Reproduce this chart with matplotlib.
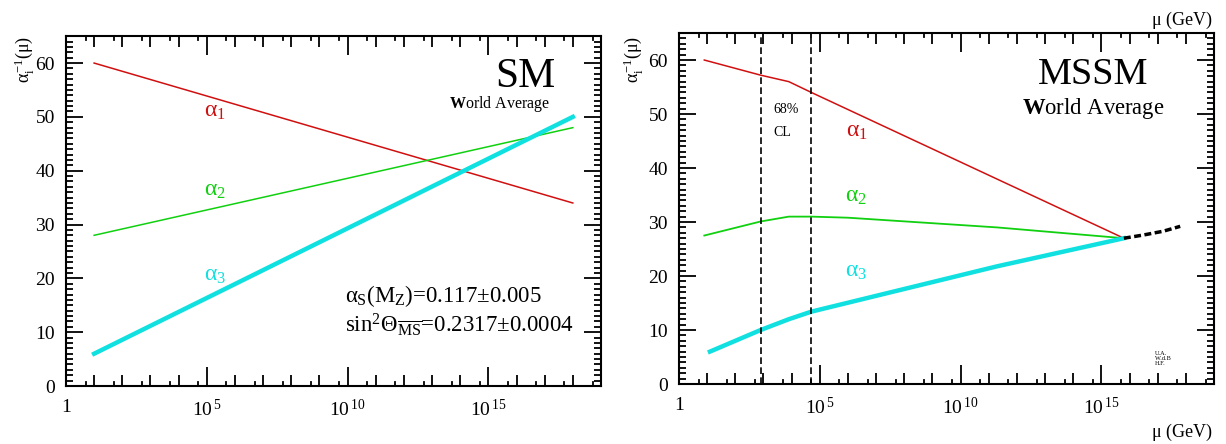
import matplotlib.pyplot as plt
import matplotlib.ticker as mticker
import numpy as np

plt.rcParams['font.family'] = ['Liberation Serif', 'DejaVu Serif']
plt.rcParams['mathtext.fontset'] = 'custom'
plt.rcParams['mathtext.rm'] = 'Liberation Serif'
plt.rcParams['mathtext.it'] = 'Liberation Serif'
plt.rcParams['mathtext.bf'] = 'Liberation Serif:bold'

# SM running couplings (log10 mu, inverse couplings)
sm_logmu = [1, 18]
sm_a1 = [60, 34]
sm_a2 = [28, 48]
sm_a3 = [6, 50]

# MSSM running couplings
mssm_logmu_a1 = [0.9, 2.9, 3.9, 4.7, 15.8]
mssm_a1 = [60, 57.2, 56, 54, 27]
mssm_logmu_a2 = [0.9, 2.9, 3.9, 4.7, 6.0, 11.3, 15.8]
mssm_a2 = [27.5, 30.1, 31, 31, 30.8, 29, 27]
mssm_logmu_a3 = [1.1, 2.9, 3.9, 4.7, 11.3, 15.8]
mssm_a3 = [6, 10, 12, 13.4, 21.8, 27]
mssm_logmu_gut = [15.8, 16.5, 17.2, 17.8]
mssm_gut = [27, 27.6, 28.3, 29.2]
cl_logmu = [2.9, 4.7]   # 68% CL band edges

red, green, cyan = '#d01010', '#10d010', '#10e0e0'

fig = plt.figure(figsize=(12.26, 4.44), dpi=100)
ax1 = fig.add_axes([0.0538, 0.1306, 0.4364, 0.788])
ax2 = fig.add_axes([0.5538, 0.1351, 0.4364, 0.7905])


def style(ax):
    ax.set_xscale('log')
    ax.set_xlim(1, 1e19)
    ax.set_ylim(0, 65)
    for s in ax.spines.values():
        s.set_linewidth(1.5)
    ax.xaxis.set_major_locator(mticker.FixedLocator([1, 1e5, 1e10, 1e15]))
    ax.xaxis.set_major_formatter(mticker.FixedFormatter(['1', '$10^{\\,5}$', '$10^{\\,10}$', '$10^{\\,15}$']))
    ax.xaxis.set_minor_locator(mticker.FixedLocator([10.0 ** n for n in range(1, 19)]))
    ax.xaxis.set_minor_formatter(mticker.NullFormatter())
    ax.yaxis.set_major_locator(mticker.MultipleLocator(10))
    ax.yaxis.set_minor_locator(mticker.MultipleLocator(1))
    ax.tick_params(which='both', direction='in', top=True, right=True, width=1.3, labelsize=14)
    ax.tick_params(axis='x', which='major', length=14, pad=9)
    ax.tick_params(axis='x', which='minor', length=8)
    ax.tick_params(axis='y', which='major', length=12, pad=8)
    ax.tick_params(axis='y', which='minor', length=5)
    # small ticks at 5 x 10^n
    tr = ax.get_xaxis_transform()
    for n in range(0, 19):
        x = 5 * 10.0 ** n
        ax.plot([x, x], [0, 0.012], transform=tr, color='k', lw=1.3, clip_on=False)
        ax.plot([x, x], [1, 0.988], transform=tr, color='k', lw=1.3, clip_on=False)


style(ax1)
style(ax2)

# SM panel
mu = 10.0 ** np.array(sm_logmu)
ax1.plot(mu, sm_a1, color=red, lw=1.1)
ax1.plot(mu, sm_a2, color=green, lw=1.1)
ax1.plot(mu, sm_a3, color=cyan, lw=3.2)
ax1.text(10 ** 5.3, 51, r'$\alpha_1$', color=red, fontsize=17, ha='center', va='center')
ax1.text(10 ** 5.3, 36.4, r'$\alpha_2$', color=green, fontsize=17, ha='center', va='center')
ax1.text(10 ** 5.3, 20.6, r'$\alpha_3$', color=cyan, fontsize=17, ha='center', va='center')
ax1.text(0.858, 0.883, 'SM', transform=ax1.transAxes, fontsize=30, ha='center', va='center')
ax1.text(0.811, 0.806, r'$\mathbf{W}$orld Average', transform=ax1.transAxes, fontsize=11.5,
         ha='center', va='center')
ax1.text(0.521, 0.257, r'$\alpha_S(M_Z)$=0.117$\pm$0.005', transform=ax1.transAxes,
         fontsize=16.5, ha='left', va='center')
ax1.text(0.521, 0.174, r'sin$^2\Theta_{\overline{\rm MS}}$=0.2317$\pm$0.0004', transform=ax1.transAxes,
         fontsize=16.5, ha='left', va='center')

# MSSM panel
ax2.plot(10.0 ** np.array(mssm_logmu_a1), mssm_a1, color=red, lw=1.1)
ax2.plot(10.0 ** np.array(mssm_logmu_a2), mssm_a2, color=green, lw=1.3)
ax2.plot(10.0 ** np.array(mssm_logmu_a3), mssm_a3, color=cyan, lw=3.2)
ax2.plot(10.0 ** np.array(mssm_logmu_gut), mssm_gut, color='k', lw=2.5, ls=(0, (2, 1)))
for c in cl_logmu:
    ax2.axvline(10.0 ** c, color='k', lw=1.2, ls=(0, (4, 2)))
ax2.text(10 ** 6.3, 46.8, r'$\alpha_1$', color=red, fontsize=17, ha='center', va='center')
ax2.text(10 ** 6.3, 34.8, r'$\alpha_2$', color=green, fontsize=17, ha='center', va='center')
ax2.text(10 ** 6.3, 20.8, r'$\alpha_3$', color=cyan, fontsize=17, ha='center', va='center')
ax2.text(10 ** 3.36, 50.9, '68%', fontsize=10, ha='left', va='center')
ax2.text(10 ** 3.36, 46.5, 'CL', fontsize=10, ha='left', va='center')
ax2.text(10 ** 16.9, 4.8, 'U.A.\nW.d.B\nH.F.', fontsize=4.5, ha='left', va='center', linespacing=1.0)
ax2.text(0.774, 0.88, 'MSSM', transform=ax2.transAxes, fontsize=27.5, ha='center', va='center')
ax2.text(0.774, 0.786, r'$\mathbf{W}$orld Average', transform=ax2.transAxes, fontsize=16.3,
         ha='center', va='center')

for x in (0.020, 0.516):
    fig.text(x, 0.865, r'$\alpha_i^{-1}(\mu)$', rotation=90, fontsize=13, ha='center', va='center')
fig.text(0.989, 0.955, r'$\mu$ (GeV)', fontsize=13, ha='right', va='center')
fig.text(0.989, 0.025, r'$\mu$ (GeV)', fontsize=13, ha='right', va='center')

fig.savefig('out.png', dpi=100)
